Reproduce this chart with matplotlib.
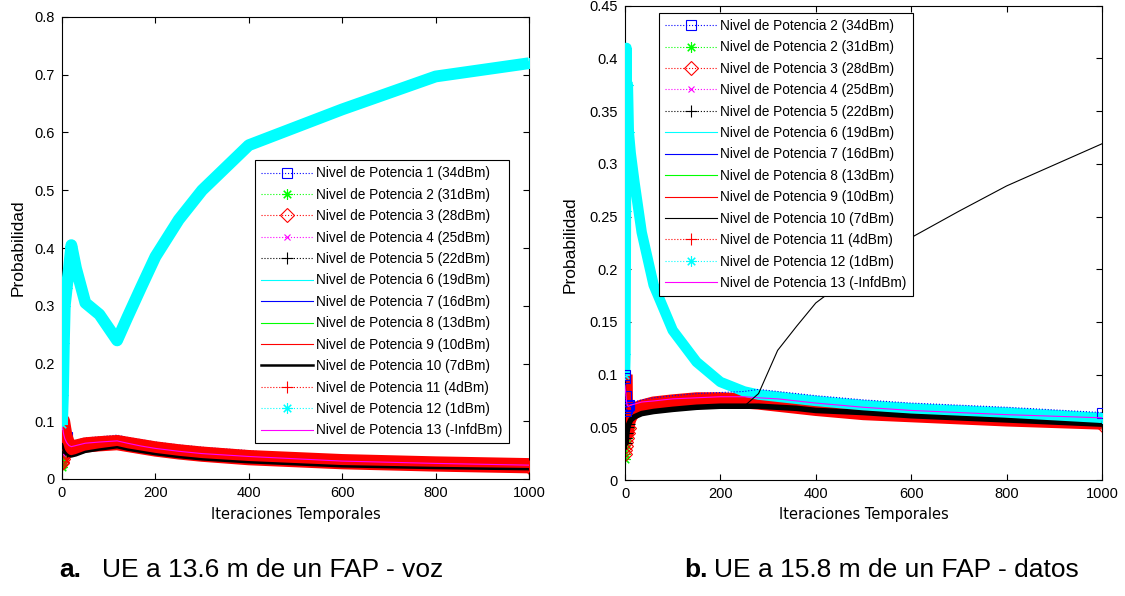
import numpy as np
import matplotlib.pyplot as plt
from matplotlib.ticker import FuncFormatter

plt.rcParams['font.family'] = ['Liberation Sans', 'DejaVu Sans']

# ---------------- datos panel a (voz) ----------------
t_a = [0, 1, 2, 3, 4, 6, 10, 15, 20, 30, 50, 80, 118, 140, 170, 200, 250, 300, 400, 600, 800, 1000]

a_p1 = [0.100, 0.098, 0.095, 0.090, 0.085, 0.080, 0.073, 0.067, 0.065, 0.067, 0.071, 0.073, 0.076, 0.072, 0.068, 0.064, 0.059, 0.055, 0.049, 0.036, 0.030, 0.025]
a_p2 = [0.020, 0.025, 0.030, 0.035, 0.040, 0.045, 0.046, 0.044, 0.043, 0.045, 0.050, 0.053, 0.057, 0.054, 0.050, 0.046, 0.041, 0.037, 0.031, 0.025, 0.021, 0.019]
a_p3 = [0.028, 0.030, 0.034, 0.038, 0.042, 0.046, 0.048, 0.046, 0.045, 0.047, 0.052, 0.055, 0.058, 0.055, 0.051, 0.047, 0.042, 0.038, 0.032, 0.026, 0.022, 0.020]
a_p4 = [0.045, 0.046, 0.048, 0.050, 0.052, 0.054, 0.055, 0.052, 0.050, 0.052, 0.056, 0.058, 0.061, 0.058, 0.054, 0.050, 0.045, 0.041, 0.035, 0.028, 0.024, 0.021]
a_p5 = [0.055, 0.056, 0.056, 0.055, 0.054, 0.052, 0.048, 0.045, 0.043, 0.045, 0.049, 0.052, 0.055, 0.052, 0.048, 0.044, 0.039, 0.035, 0.030, 0.023, 0.019, 0.017]
a_p6 = [0.090, 0.092, 0.090, 0.086, 0.082, 0.076, 0.068, 0.061, 0.058, 0.059, 0.063, 0.065, 0.067, 0.064, 0.059, 0.055, 0.050, 0.046, 0.040, 0.032, 0.027, 0.024]
a_p7 = [0.085, 0.084, 0.082, 0.079, 0.076, 0.071, 0.064, 0.058, 0.055, 0.056, 0.060, 0.062, 0.064, 0.061, 0.057, 0.053, 0.048, 0.044, 0.038, 0.031, 0.026, 0.023]
a_p8 = [0.050, 0.052, 0.054, 0.055, 0.055, 0.054, 0.052, 0.049, 0.047, 0.048, 0.053, 0.056, 0.059, 0.056, 0.052, 0.048, 0.043, 0.039, 0.034, 0.027, 0.023, 0.020]
a_p9 = [0.095, 0.094, 0.092, 0.088, 0.083, 0.075, 0.066, 0.058, 0.054, 0.056, 0.060, 0.062, 0.064, 0.061, 0.057, 0.053, 0.048, 0.044, 0.038, 0.031, 0.026, 0.023]
a_p10 = [0.060, 0.058, 0.055, 0.052, 0.050, 0.047, 0.043, 0.040, 0.039, 0.041, 0.047, 0.051, 0.055, 0.051, 0.047, 0.043, 0.038, 0.034, 0.029, 0.022, 0.019, 0.017]
a_p11 = [0.100, 0.100, 0.095, 0.090, 0.085, 0.075, 0.065, 0.056, 0.052, 0.055, 0.059, 0.061, 0.063, 0.060, 0.056, 0.052, 0.047, 0.043, 0.037, 0.030, 0.026, 0.023]
a_p12 = [0.095, 0.120, 0.145, 0.190, 0.235, 0.300, 0.330, 0.365, 0.405, 0.365, 0.305, 0.285, 0.240, 0.280, 0.333, 0.385, 0.449, 0.500, 0.578, 0.640, 0.697, 0.720]
a_p13 = [0.090, 0.088, 0.085, 0.080, 0.076, 0.070, 0.063, 0.058, 0.056, 0.058, 0.062, 0.064, 0.066, 0.062, 0.057, 0.053, 0.048, 0.044, 0.039, 0.031, 0.027, 0.024]

# ---------------- datos panel b (datos) ----------------
t_b = [0, 1, 2, 3, 4, 6, 8, 12, 20, 35, 60, 100, 150, 200, 250, 280, 320, 360, 400, 500, 600, 700, 800, 1000]

b_p1 = [0.100, 0.097, 0.080, 0.065, 0.068, 0.070, 0.071, 0.072, 0.074, 0.076, 0.078, 0.080, 0.082, 0.083, 0.084, 0.086, 0.084, 0.082, 0.080, 0.076, 0.073, 0.071, 0.069, 0.064]
b_p2 = [0.020, 0.025, 0.030, 0.035, 0.040, 0.045, 0.049, 0.053, 0.058, 0.062, 0.065, 0.067, 0.068, 0.069, 0.069, 0.069, 0.068, 0.067, 0.065, 0.063, 0.060, 0.058, 0.056, 0.052]
b_p3 = [0.025, 0.028, 0.032, 0.036, 0.040, 0.045, 0.049, 0.054, 0.059, 0.063, 0.066, 0.068, 0.069, 0.070, 0.070, 0.069, 0.068, 0.067, 0.065, 0.062, 0.060, 0.058, 0.056, 0.052]
b_p4 = [0.040, 0.042, 0.045, 0.048, 0.050, 0.053, 0.055, 0.058, 0.061, 0.064, 0.067, 0.069, 0.070, 0.071, 0.071, 0.070, 0.069, 0.068, 0.066, 0.064, 0.061, 0.059, 0.057, 0.053]
b_p5 = [0.050, 0.040, 0.035, 0.040, 0.045, 0.050, 0.053, 0.057, 0.060, 0.063, 0.065, 0.067, 0.069, 0.070, 0.070, 0.070, 0.069, 0.068, 0.066, 0.064, 0.061, 0.059, 0.057, 0.053]
b_p6 = [0.060, 0.055, 0.050, 0.048, 0.050, 0.053, 0.056, 0.059, 0.062, 0.065, 0.067, 0.069, 0.070, 0.071, 0.071, 0.071, 0.070, 0.069, 0.068, 0.065, 0.063, 0.061, 0.059, 0.055]
b_p7 = [0.065, 0.060, 0.055, 0.052, 0.053, 0.056, 0.058, 0.061, 0.064, 0.066, 0.068, 0.070, 0.071, 0.072, 0.072, 0.072, 0.071, 0.070, 0.069, 0.066, 0.064, 0.062, 0.060, 0.056]
b_p8 = [0.055, 0.050, 0.047, 0.046, 0.048, 0.051, 0.054, 0.057, 0.060, 0.063, 0.066, 0.068, 0.069, 0.070, 0.070, 0.070, 0.069, 0.068, 0.066, 0.063, 0.061, 0.059, 0.057, 0.053]
b_p9 = [0.090, 0.070, 0.062, 0.060, 0.061, 0.063, 0.065, 0.067, 0.069, 0.071, 0.073, 0.075, 0.076, 0.077, 0.077, 0.076, 0.074, 0.072, 0.070, 0.066, 0.063, 0.061, 0.059, 0.055]
b_p10 = [0.030, 0.035, 0.040, 0.045, 0.048, 0.052, 0.055, 0.058, 0.061, 0.064, 0.066, 0.068, 0.069, 0.070, 0.070, 0.082, 0.123, 0.146, 0.168, 0.202, 0.230, 0.255, 0.279, 0.319]
b_p11 = [0.100, 0.060, 0.050, 0.045, 0.050, 0.055, 0.058, 0.062, 0.066, 0.069, 0.072, 0.074, 0.076, 0.076, 0.075, 0.074, 0.072, 0.070, 0.068, 0.064, 0.062, 0.060, 0.058, 0.055]
b_p12 = [0.100, 0.120, 0.255, 0.410, 0.348, 0.375, 0.330, 0.310, 0.282, 0.235, 0.185, 0.142, 0.112, 0.093, 0.084, 0.081, 0.079, 0.077, 0.075, 0.071, 0.068, 0.066, 0.064, 0.059]
b_p13 = [0.090, 0.085, 0.080, 0.075, 0.072, 0.070, 0.070, 0.071, 0.072, 0.074, 0.075, 0.077, 0.078, 0.079, 0.079, 0.078, 0.077, 0.075, 0.073, 0.069, 0.066, 0.064, 0.062, 0.059]

dbm = ['34', '31', '28', '25', '22', '19', '16', '13', '10', '7', '4', '1', '-Inf']
labels_a = ['Nivel de Potencia %d (%sdBm)' % (i + 1, d) for i, d in enumerate(dbm)]
labels_b = list(labels_a)
labels_b[0] = 'Nivel de Potencia 2 (34dBm)'   # asi sale en la figura original

# ---------------- estilos tipo MATLAB ----------------
B, G, R, M, K, C = '#0000ff', '#00ff00', '#ff0000', '#ff00ff', '#000000', '#00ffff'
colores = [B, G, R, M, K, C, B, G, R, K, R, C, M]
lineas = [':', ':', ':', ':', ':', '-', '-', '-', '-', '-', ':', ':', '-']
marcas = ['s', (8, 2, 0), 'D', 'x', '+', None, None, None, None, None, '+', (8, 2, 0), None]
tam = [7.5, 7.5, 7, 5, 8.5, 0, 0, 0, 0, 0, 8.5, 7.5, 0]


def panel(ax, t, series, etiquetas, bandas, zs, ymax, yticks, leg_xy, grueso):
    # marcadores solo donde se ven sueltos en el original (inicio y final)
    cada = [k for k, x in enumerate(t) if x <= 10] + [len(t) - 1]
    hs = []
    for i, y in enumerate(series):
        # banda gruesa = los 1000 marcadores apilados del original
        if i in bandas:
            ax.plot(t, y, color=colores[i], lw=bandas[i], solid_capstyle='butt',
                    zorder=zs[i] - 0.1)
        lw = grueso.get(i, 0.8)
        h, = ax.plot(t, y, color=colores[i], linestyle=lineas[i], lw=lw,
                     marker=marcas[i], markersize=tam[i], markerfacecolor='none',
                     markeredgewidth=0.8, markevery=cada, zorder=zs[i])
        hs.append(h)
    ax.set_xlim(0, 1000)
    ax.set_ylim(0, ymax)
    ax.set_xticks([0, 200, 400, 600, 800, 1000])
    ax.set_yticks(yticks)
    ax.yaxis.set_major_formatter(FuncFormatter(lambda v, p: '%g' % round(v, 3)))
    ax.tick_params(direction='in', top=True, right=True, length=4.5, width=0.8,
                   labelsize=10.5, pad=5)
    for s in ax.spines.values():
        s.set_linewidth(0.8)
    leg = ax.legend(hs, etiquetas, loc='upper left', bbox_to_anchor=leg_xy,
                    fontsize=9.8, handlelength=3.8, handletextpad=0.25,
                    labelspacing=0.545, borderpad=0.45, borderaxespad=0,
                    fancybox=False, edgecolor='k', framealpha=1, numpoints=1)
    leg.get_frame().set_linewidth(0.8)
    leg.set_zorder(20)


fig = plt.figure(figsize=(11.25, 5.96), dpi=100)
ax1 = fig.add_axes([62 / 1125, 117 / 596, 467 / 1125, 462 / 596])
ax2 = fig.add_axes([625 / 1125, 116 / 596, 477 / 1125, 474.3 / 596])

serie_a = [a_p1, a_p2, a_p3, a_p4, a_p5, a_p6, a_p7, a_p8, a_p9, a_p10, a_p11, a_p12, a_p13]
serie_b = [b_p1, b_p2, b_p3, b_p4, b_p5, b_p6, b_p7, b_p8, b_p9, b_p10, b_p11, b_p12, b_p13]

# orden de dibujo (quien tapa a quien)
z_a = [1.5, 1.6, 1.7, 1.8, 1.9, 2.0, 2.1, 2.2, 2.3, 4.0, 3.0, 3.5, 5.0]
z_b = [3.6, 1.6, 1.7, 1.8, 2.8, 2.0, 2.1, 2.2, 2.3, 6.0, 2.5, 3.4, 5.0]

panel(ax1, t_a, serie_a, labels_a, {10: 11, 11: 8.5}, z_a, 0.8,
      np.arange(0, 0.81, 0.1), (0.413, 0.69), {9: 1.8})
panel(ax2, t_b, serie_b, labels_b, {4: 4, 10: 11, 11: 7.5}, z_b, 0.45,
      np.arange(0, 0.451, 0.05), (0.071, 0.985), {})

# etiquetas de ejes
fig.text(18.5 / 1125, 1 - 248 / 596, 'Probabilidad', rotation=90, ha='center', va='center', fontsize=12.5)
fig.text(570 / 1125, 1 - 245 / 596, 'Probabilidad', rotation=90, ha='center', va='center', fontsize=12.5)
fig.text(295.5 / 1125, 1 - 515 / 596, 'Iteraciones Temporales', ha='center', va='center',
         fontsize=10.5, family='DejaVu Sans')
fig.text(863.5 / 1125, 1 - 515 / 596, 'Iteraciones Temporales', ha='center', va='center',
         fontsize=10.5, family='DejaVu Sans')

# pies de figura
fig.text(59 / 1125, 1 - 577 / 596, 'a.', fontsize=19, fontweight='bold', va='baseline')
fig.text(102 / 1125, 1 - 577 / 596, 'UE a 13.6 m de un FAP - voz', fontsize=19, va='baseline')
fig.text(684 / 1125, 1 - 577 / 596, 'b.', fontsize=19, fontweight='bold', va='baseline')
fig.text(714 / 1125, 1 - 577 / 596, 'UE a 15.8 m de un FAP - datos', fontsize=19, va='baseline')

plt.savefig('out.png', dpi=100)
